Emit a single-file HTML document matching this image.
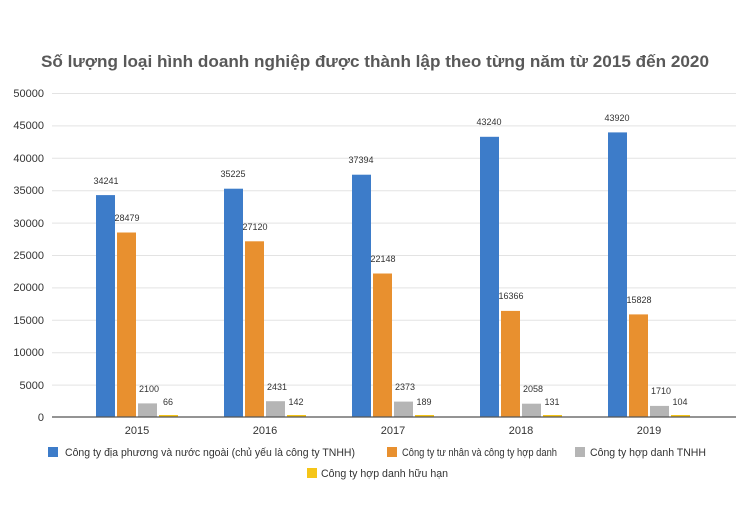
<!DOCTYPE html>
<html><head><meta charset="utf-8"><style>body{margin:0;background:#fff}svg{display:block}</style></head>
<body>
<svg width="750" height="525" xmlns="http://www.w3.org/2000/svg" font-family="Liberation Sans, sans-serif">
<rect width="750" height="525" fill="#fff"/>
<text x="375" y="67" text-anchor="middle" font-size="17" font-weight="bold" fill="#595959" textLength="668" lengthAdjust="spacingAndGlyphs">Số lượng loại hình doanh nghiệp được thành lập theo từng năm từ 2015 đến 2020</text>
<g stroke="#e3e3e3" stroke-width="1">
<line x1="52" x2="736" y1="93.5" y2="93.5"/><line x1="52" x2="736" y1="125.9" y2="125.9"/><line x1="52" x2="736" y1="158.3" y2="158.3"/><line x1="52" x2="736" y1="190.7" y2="190.7"/><line x1="52" x2="736" y1="223.1" y2="223.1"/><line x1="52" x2="736" y1="255.5" y2="255.5"/><line x1="52" x2="736" y1="287.9" y2="287.9"/><line x1="52" x2="736" y1="320.3" y2="320.3"/><line x1="52" x2="736" y1="352.7" y2="352.7"/><line x1="52" x2="736" y1="385.1" y2="385.1"/>
</g>
<g font-size="11" fill="#333" text-anchor="end">
<text x="44" y="97">50000</text><text x="44" y="129">45000</text><text x="44" y="162">40000</text><text x="44" y="194">35000</text><text x="44" y="227">30000</text><text x="44" y="259">25000</text><text x="44" y="291">20000</text><text x="44" y="324">15000</text><text x="44" y="356">10000</text><text x="44" y="389">5000</text><text x="44" y="421">0</text>
</g>
<g>
<rect x="96" y="195.1" width="19" height="221.9" fill="#3d7cc9"/><rect x="117" y="232.5" width="19" height="184.5" fill="#e8902f"/><rect x="138" y="403.4" width="19" height="13.6" fill="#b5b5b5"/><rect x="159" y="415" width="19" height="2" fill="#f5c518"/>
<rect x="224" y="188.7" width="19" height="228.3" fill="#3d7cc9"/><rect x="245" y="241.3" width="19" height="175.7" fill="#e8902f"/><rect x="266" y="401.2" width="19" height="15.8" fill="#b5b5b5"/><rect x="287" y="415" width="19" height="2" fill="#f5c518"/>
<rect x="352" y="174.7" width="19" height="242.3" fill="#3d7cc9"/><rect x="373" y="273.5" width="19" height="143.5" fill="#e8902f"/><rect x="394" y="401.6" width="19" height="15.4" fill="#b5b5b5"/><rect x="415" y="415" width="19" height="2" fill="#f5c518"/>
<rect x="480" y="136.8" width="19" height="280.2" fill="#3d7cc9"/><rect x="501" y="310.9" width="19" height="106.1" fill="#e8902f"/><rect x="522" y="403.7" width="19" height="13.3" fill="#b5b5b5"/><rect x="543" y="415" width="19" height="2" fill="#f5c518"/>
<rect x="608" y="132.4" width="19" height="284.6" fill="#3d7cc9"/><rect x="629" y="314.4" width="19" height="102.6" fill="#e8902f"/><rect x="650" y="405.9" width="19" height="11.1" fill="#b5b5b5"/><rect x="671" y="415" width="19" height="2" fill="#f5c518"/>
</g>
<line x1="52" x2="736" y1="417" y2="417" stroke="#555" stroke-width="1.2"/>
<g font-size="9" fill="#333" text-anchor="middle">
<text x="106" y="184">34241</text><text x="127" y="221">28479</text><text x="149" y="392">2100</text><text x="168" y="405">66</text>
<text x="233" y="177">35225</text><text x="255" y="230">27120</text><text x="277" y="390">2431</text><text x="296" y="405">142</text>
<text x="361" y="163">37394</text><text x="383" y="262">22148</text><text x="405" y="390">2373</text><text x="424" y="405">189</text>
<text x="489" y="125">43240</text><text x="511" y="299">16366</text><text x="533" y="392">2058</text><text x="552" y="405">131</text>
<text x="617" y="121">43920</text><text x="639" y="303">15828</text><text x="661" y="394">1710</text><text x="680" y="405">104</text>
</g>
<g font-size="11" fill="#333" text-anchor="middle">
<text x="137" y="434">2015</text><text x="265" y="434">2016</text><text x="393" y="434">2017</text><text x="521" y="434">2018</text><text x="649" y="434">2019</text>
</g>
<g font-size="11" fill="#333">
<rect x="48" y="447" width="10" height="10" fill="#3d7cc9"/><text x="65" y="456" textLength="290" lengthAdjust="spacingAndGlyphs">Công ty địa phương và nước ngoài (chủ yếu là công ty TNHH)</text>
<rect x="387" y="447" width="10" height="10" fill="#e8902f"/><text x="402" y="456" textLength="155" lengthAdjust="spacingAndGlyphs">Công ty tư nhân và công ty hợp danh</text>
<rect x="575" y="447" width="10" height="10" fill="#b5b5b5"/><text x="590" y="456" textLength="116" lengthAdjust="spacingAndGlyphs">Công ty hợp danh TNHH</text>
<rect x="307" y="468" width="10" height="10" fill="#f5c518"/><text x="321" y="477" textLength="127" lengthAdjust="spacingAndGlyphs">Công ty hợp danh hữu hạn</text>
</g>
</svg>
</body></html>
